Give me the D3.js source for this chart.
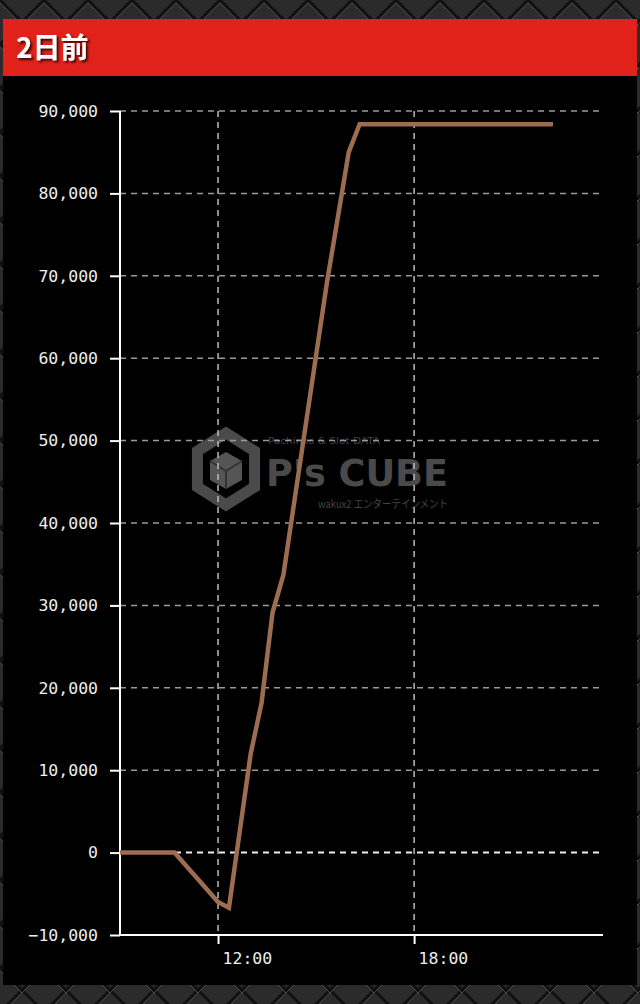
<!DOCTYPE html>
<html>
<head>
<meta charset="utf-8">
<script src="https://cdnjs.cloudflare.com/ajax/libs/d3/7.8.5/d3.min.js"></script>
<style>
  body { margin: 0; background: #1a1a1a; }
  svg { display: block; }
</style>
</head>
<body>
<div id="chart"></div>
<script>
// data (vertices of the line)
var times = ["9:00", "10:40", "12:00", "12:20", "13:00", "13:20", "13:40", "14:00", "15:20", "16:00", "16:20", "22:15"];
var values = [0, 0, -6000, -6700, 12000, 18200, 29100, 33700, 69200, 85000, 88400, 88400];
var yTicks = [-10000, 0, 10000, 20000, 30000, 40000, 50000, 60000, 70000, 80000, 90000];
var xTicks = ["12:00", "18:00"];
var title = "2日前";

var W = 640, H = 1004;
var parse = d3.timeParse("%H:%M");

var svg = d3.select("#chart").append("svg")
  .attr("width", W)
  .attr("height", H);

// metal diamond background
var defs = svg.append("defs");
var pat = defs.append("pattern")
  .attr("id", "metal")
  .attr("width", 44).attr("height", 44)
  .attr("patternUnits", "userSpaceOnUse");
pat.append("rect").attr("width", 44).attr("height", 44).attr("fill", "#2b2b2b");
pat.append("path")
  .attr("d", "M0,0 L22,22 L44,0 M0,44 L22,22 L44,44")
  .attr("stroke", "#111").attr("stroke-width", 3).attr("fill", "none");
pat.append("path")
  .attr("d", "M0,3 L22,25 L44,3 M0,47 L22,25")
  .attr("stroke", "#4a4a4a").attr("stroke-width", 1).attr("fill", "none");

// shadow for the title
var sh = defs.append("filter").attr("id", "shadow");
sh.append("feDropShadow")
  .attr("dx", 2).attr("dy", 2)
  .attr("stdDeviation", 0.8)
  .attr("flood-color", "#300")
  .attr("flood-opacity", 0.9);

svg.append("rect").attr("width", W).attr("height", H).attr("fill", "url(#metal)");

// black panel
svg.append("rect")
  .attr("x", 3).attr("y", 19)
  .attr("width", 634).attr("height", 966)
  .attr("fill", "#000");

// header
svg.append("rect")
  .attr("x", 3).attr("y", 19)
  .attr("width", 634).attr("height", 57)
  .attr("fill", "#e0221a");

svg.append("text")
  .attr("x", 16).attr("y", 58)
  .attr("fill", "#fff")
  .attr("font-family", "'Noto Sans CJK JP'")
  .attr("font-weight", "bold")
  .attr("font-size", 28)
  .attr("filter", "url(#shadow)")
  .text(title);

// scales
var x = d3.scaleTime()
  .domain([parse("9:00"), parse("23:45")])
  .range([120, 602]);
var y = d3.scaleLinear()
  .domain([-10000, 90000])
  .range([935, 111]);

// watermark
var wm = svg.append("g").attr("fill", "#4a4a4a");
var hex = d3.range(6).map(function(i) {
  var a = Math.PI / 3 * i + Math.PI / 6;
  return [226 + 33 * Math.cos(a), 469 + 36 * Math.sin(a)];
});
wm.append("path")
  .attr("d", "M" + hex.join("L") + "Z")
  .attr("fill", "none")
  .attr("stroke", "#4a4a4a")
  .attr("stroke-width", 11);
wm.append("path")
  .attr("d", "M226,452 L242,461 L242,480 L226,489 L210,480 L210,461 Z")
  .attr("fill", "#555");
wm.append("path")
  .attr("d", "M226,471 L242,461 M226,471 L226,489 M226,471 L210,461")
  .attr("stroke", "#333").attr("stroke-width", 2);
wm.append("text")
  .attr("x", 268).attr("y", 444)
  .attr("font-family", "'DejaVu Sans'")
  .attr("font-size", 9)
  .attr("textLength", 112)
  .attr("lengthAdjust", "spacingAndGlyphs")
  .attr("fill", "#444")
  .text("Pachinko & Slot DATA");
wm.append("text")
  .attr("x", 266).attr("y", 486)
  .attr("font-family", "'DejaVu Sans'")
  .attr("font-weight", "bold")
  .attr("font-size", 38)
  .attr("textLength", 182)
  .attr("lengthAdjust", "spacingAndGlyphs")
  .text("P's CUBE");
wm.append("text")
  .attr("x", 318).attr("y", 508)
  .attr("font-family", "'Noto Sans CJK JP'")
  .attr("font-size", 11)
  .attr("textLength", 130)
  .attr("lengthAdjust", "spacingAndGlyphs")
  .attr("fill", "#444")
  .text("wakux2 エンターテインメント");

// horizontal grid
svg.append("g")
  .selectAll("line")
  .data(yTicks)
  .join("line")
  .attr("x1", 120).attr("x2", 603)
  .attr("y1", function(d) { return y(d); })
  .attr("y2", function(d) { return y(d); })
  .attr("stroke", function(d) { return d == 0 ? "#eee" : "#9a9a9a"; })
  .attr("stroke-width", function(d) { return d == 0 ? 2 : 1.5; })
  .attr("stroke-dasharray", "6,5");

// vertical grid
svg.append("g")
  .selectAll("line")
  .data(xTicks)
  .join("line")
  .attr("x1", function(d) { return x(parse(d)); })
  .attr("x2", function(d) { return x(parse(d)); })
  .attr("y1", 111).attr("y2", 935)
  .attr("stroke", "#bbb")
  .attr("stroke-width", 1.5)
  .attr("stroke-dasharray", "6,5");

// axes
var fmt = d3.format(",");
var yAxis = svg.append("g")
  .attr("transform", "translate(120,0)")
  .call(d3.axisLeft(y).tickValues(yTicks).tickSize(10).tickPadding(12).tickFormat(fmt));
var xAxis = svg.append("g")
  .attr("transform", "translate(0,935)")
  .call(d3.axisBottom(x).tickValues(xTicks.map(parse)).tickSize(9).tickFormat(d3.timeFormat("%H:%M")));

[yAxis, xAxis].forEach(function(ax) {
  ax.select(".domain").attr("stroke", "#fff").attr("stroke-width", 2);
  ax.selectAll(".tick line").attr("stroke", "#fff").attr("stroke-width", 2);
  ax.selectAll("text")
    .attr("fill", "#eee")
    .attr("font-family", "'DejaVu Sans Mono'")
    .attr("font-size", 16.5);
});
yAxis.select(".domain").attr("d", "M0,935V111");
xAxis.select(".domain").attr("d", "M120,0H603");
xAxis.selectAll(".tick text")
  .attr("text-anchor", "start")
  .attr("x", 4)
  .attr("y", 17);

// the line
var pts = times.map(function(t, i) { return { t: parse(t), v: values[i] }; });
var line = d3.line()
  .x(function(d) { return x(d.t); })
  .y(function(d) { return y(d.v); });

svg.append("path")
  .datum(pts)
  .attr("d", line)
  .attr("fill", "none")
  .attr("stroke", "#9c6d51")
  .attr("stroke-width", 4.5)
  .attr("stroke-linejoin", "miter");
</script>
</body>
</html>
